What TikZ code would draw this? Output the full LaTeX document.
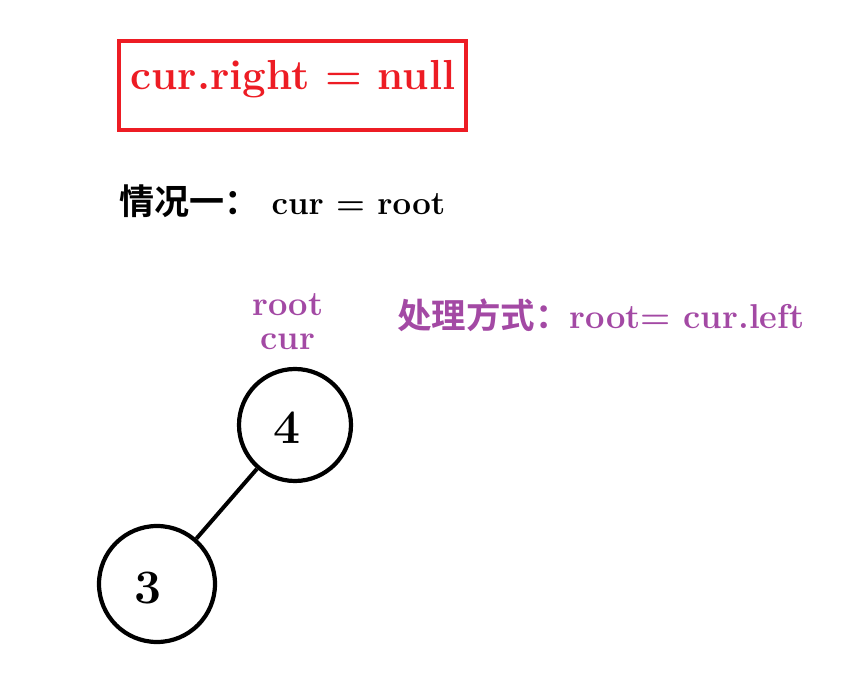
\documentclass[tikz,border=0pt]{standalone}
\usepackage{fontspec}
\usepackage{xcolor}
\newfontfamily\cjk{Noto Sans CJK SC}[BoldFont={Noto Sans CJK SC Bold}]
\definecolor{boxred}{HTML}{ED1C24}
\definecolor{notepurple}{HTML}{A349A4}

\begin{document}
\begin{tikzpicture}[x=1pt, y=-1pt,
  treenode/.style={shape=circle, draw=black, line width=4.2pt, inner sep=0pt},
  digit/.style={font=\fontsize{48}{48}\selectfont\bfseries, inner sep=0pt},
  purpletext/.style={text=notepurple, font=\fontsize{34.5}{35}\selectfont\bfseries, inner sep=0pt}]
\useasboundingbox (0,0) rectangle (855,674);
\node[shape=rectangle, draw=boxred, line width=4pt, minimum width=347pt, minimum height=89pt](box) at (292.5,85.5) {};
\node[text=boxred, font=\fontsize{42}{42}\selectfont\bfseries, inner sep=0pt](title) at (293,79) {cur.right = null};
\node[anchor=west, font=\fontsize{33}{35}\selectfont\bfseries, inner sep=0pt](case) at (119,201) {{\cjk\fontsize{35}{36}\selectfont 情况一：}\ cur = root};
\node[purpletext](rootlabel) at (288,305) {root};
\node[purpletext](curlabel) at (288,342) {cur};
\node[purpletext, anchor=west](method) at (397,315) {{\cjk 处理方式：}root= cur.left};
\node[treenode, minimum size=112pt, label={[digit, xshift=-8pt, yshift=-3pt]center:4}](4) at (295,425) {};
\node[treenode, minimum size=116pt, label={[digit, xshift=-9pt, yshift=-4pt]center:3}](3) at (157,584) {};
\draw[line width=4pt] (4) -- (3);
\end{tikzpicture}
\end{document}
